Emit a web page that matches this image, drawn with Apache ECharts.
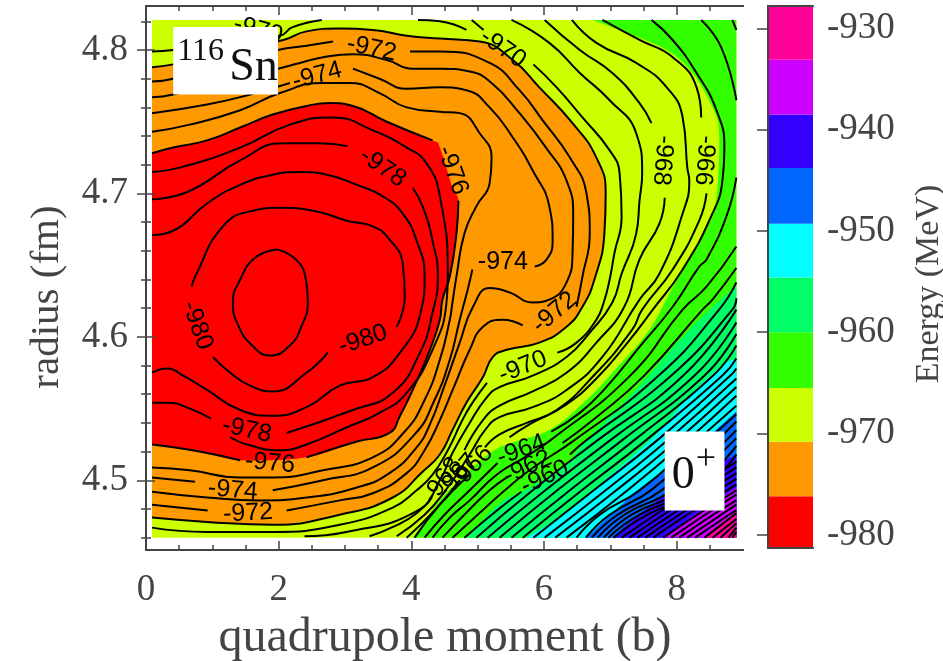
<!DOCTYPE html>
<html><head><meta charset="utf-8">
<style>html,body{margin:0;padding:0;background:#fff}#c{width:943px;height:661px}</style>
<script src="https://cdn.jsdelivr.net/npm/echarts@6/dist/echarts.min.js"></script>
</head><body><div id="c"></div>
<script>
const xTicks=[0,2,4,6,8];
const xMinorTicks=[0.5,1,1.5,2.5,3,3.5,4.5,5,5.5,6.5,7,7.5,8.5];
const yTicks=[4.5,4.6,4.7,4.8];
const yMinorTicks=[4.46,4.48,4.52,4.54,4.56,4.58,4.62,4.64,4.66,4.68,4.72,4.74,4.76,4.78,4.82];
const barTicks=[-980,-970,-960,-950,-940,-930];
const barEdges=[-981.34,-976.2,-970.8,-965.5,-960,-954.6,-949.3,-943.8,-938.5,-933.1,-927.8];
const barColors=['#ff0000','#ff9900','#ccff00','#33ff00','#00ff66','#00ffff','#0066ff','#3300ff','#cc00ff','#ff0099'];

const c981=[[[1.97,4.661],[2.26,4.654],[2.41,4.640],[2.44,4.624],[2.35,4.608],[2.17,4.594],[1.87,4.587],[1.60,4.594],[1.39,4.608],[1.31,4.624],[1.42,4.640],[1.64,4.655],[1.97,4.661]]];
const c980=[[[0.69,4.635],[0.74,4.642],[1.16,4.677],[1.61,4.688],[2.02,4.690],[2.52,4.688],[3.03,4.681],[3.42,4.677],[3.67,4.668],[3.87,4.651],[3.90,4.628],[3.78,4.607]],
[[2.74,4.589],[2.42,4.575],[1.91,4.562],[1.57,4.566],[1.27,4.575],[1.01,4.586]]];
const c979=[[[0.09,4.671],[0.41,4.674],[0.92,4.693],[1.42,4.706],[1.91,4.713],[2.32,4.715],[2.73,4.713],[3.18,4.706],[3.57,4.698],[3.87,4.686],[4.08,4.667],[4.20,4.642],[4.14,4.617],[3.83,4.589],[3.42,4.572],[2.92,4.566],[2.42,4.551],[1.91,4.545],[1.42,4.549],[0.92,4.563],[0.56,4.573],[0.32,4.578],[0.09,4.575]]];
const c978=[[[0.09,4.696],[0.62,4.701],[1.42,4.723],[2.06,4.735],[2.62,4.735],[3.04,4.733]],
[[4.02,4.704],[4.17,4.691],[4.32,4.667],[4.40,4.642],[4.32,4.617],[4.13,4.589],[3.72,4.561],[3.12,4.549],[2.12,4.533]],
[[0.98,4.543],[0.66,4.550],[0.32,4.554],[0.09,4.554]]];
const c977=[[[0.09,4.715],[0.51,4.718],[1.42,4.732],[2.17,4.748],[2.82,4.753],[3.42,4.744],[3.93,4.732],[4.23,4.721],[4.43,4.698],[4.55,4.642],[4.53,4.624],[4.32,4.591],[3.93,4.561],[3.52,4.547],[3.03,4.537],[2.42,4.525],[2.02,4.521],[1.52,4.525],[1.27,4.530]]];
const c976=[[[0.09,4.728],[0.41,4.732],[0.92,4.737],[1.42,4.746],[1.91,4.755],[2.42,4.761],[2.77,4.763],[3.12,4.761],[3.63,4.750],[4.32,4.737]],
[[4.71,4.695],[4.68,4.672],[4.58,4.642],[4.47,4.626],[4.43,4.612],[4.28,4.591],[4.05,4.566],[3.83,4.545],[3.67,4.533],[3.18,4.527],[2.42,4.516]],
[[1.42,4.514],[0.92,4.519],[0.41,4.523],[0.09,4.525]]];
const c975=[[[0.09,4.743],[0.66,4.748],[1.42,4.758],[2.02,4.770],[2.67,4.777],[3.07,4.777],[3.52,4.770],[3.93,4.760],[4.43,4.757],[4.73,4.756],[5.03,4.742],[5.21,4.725],[5.18,4.707],[4.98,4.691],[4.80,4.672],[4.68,4.642],[4.62,4.624],[4.58,4.612],[4.43,4.584],[4.20,4.556],[3.90,4.534],[3.42,4.516],[2.67,4.507],[1.91,4.502],[1.42,4.502],[0.66,4.507],[0.09,4.509]]];
const c974=[[[0.09,4.756],[0.92,4.762],[1.57,4.769],[2.17,4.777]],
[[3.12,4.787],[3.52,4.780],[3.93,4.773],[4.43,4.774],[4.83,4.772],[5.18,4.760],[5.53,4.739],[5.83,4.716],[6.08,4.691],[6.13,4.667],[6.04,4.654],[5.86,4.649]],
[[4.92,4.647],[4.85,4.633],[4.73,4.612],[4.58,4.584],[4.35,4.556],[4.05,4.532],[3.42,4.509],[2.67,4.500],[1.91,4.493]],
[[0.74,4.499],[0.09,4.502]]];
const c973=[[[0.09,4.767],[0.41,4.769],[1.99,4.787],[2.32,4.791],[2.67,4.795],[3.12,4.797],[3.63,4.793],[4.02,4.787],[4.43,4.787],[4.88,4.785],[5.21,4.777],[5.63,4.756],[6.03,4.732],[6.34,4.709],[6.44,4.684],[6.43,4.658],[6.34,4.638],[6.08,4.626],[5.83,4.624],[5.48,4.631],[5.18,4.634],[4.93,4.621],[4.73,4.596],[4.50,4.566],[4.28,4.539],[4.08,4.523],[3.67,4.505],[3.18,4.495],[2.42,4.488],[1.72,4.486],[0.92,4.488],[0.09,4.492]]];
const c972=[[[0.09,4.778],[0.41,4.780],[1.99,4.800],[2.42,4.803],[2.82,4.806]],
[[3.98,4.799],[4.43,4.799],[5.18,4.791],[5.63,4.772],[5.98,4.751],[6.39,4.725],[6.64,4.700],[6.69,4.672],[6.58,4.642],[6.49,4.621]],
[[5.68,4.608],[5.38,4.612],[5.08,4.607],[4.88,4.591],[4.65,4.566],[4.43,4.542],[4.20,4.521],[3.93,4.505],[3.42,4.491],[2.92,4.486],[2.12,4.479]],
[[0.93,4.479],[0.09,4.483]]];
const c971=[[[0.09,4.788],[0.41,4.790],[2.07,4.807],[2.42,4.813],[2.92,4.815],[3.42,4.814],[3.93,4.810],[4.43,4.808],[5.03,4.806],[5.53,4.793],[5.93,4.774],[6.43,4.749],[6.79,4.725],[6.93,4.700],[6.91,4.672],[6.76,4.640],[6.58,4.621],[6.34,4.607],[5.93,4.596],[5.44,4.591],[5.23,4.586],[5.08,4.572],[4.83,4.554],[4.62,4.535],[4.43,4.518],[4.17,4.506],[3.72,4.488],[2.92,4.476],[1.91,4.469],[0.92,4.471],[0.09,4.474]]];
const c970=[[[0.09,4.799],[0.41,4.800],[2.02,4.810],[2.21,4.816],[2.65,4.821]],
[[4.10,4.821],[4.43,4.820],[4.83,4.814]],
[[4.91,4.821],[5.09,4.814]],
[[5.84,4.790],[6.19,4.774],[6.58,4.753],[6.99,4.730],[7.14,4.714],[7.17,4.684],[7.06,4.658],[6.99,4.640],[6.90,4.624],[6.79,4.612],[6.49,4.596],[6.20,4.589]],
[[5.14,4.568],[4.92,4.554],[4.77,4.542],[4.55,4.521],[4.32,4.504],[4.08,4.493],[3.72,4.481],[2.92,4.469],[1.91,4.464],[0.92,4.464],[0.09,4.467]]];
const c969=[[[5.51,4.821],[6.08,4.805],[6.54,4.784],[6.99,4.765],[7.39,4.742],[7.48,4.714],[7.44,4.695],[7.39,4.672],[7.17,4.644],[7.03,4.624],[6.69,4.603],[6.34,4.586],[5.83,4.573],[5.33,4.565],[5.14,4.558],[4.88,4.540],[4.62,4.519],[4.43,4.500],[4.10,4.479],[3.02,4.464],[2.39,4.461]]];
const c968=[[[6.01,4.821],[6.54,4.800],[7.03,4.784],[7.44,4.763],[7.62,4.749]],
[[7.82,4.697],[7.74,4.679],[7.44,4.654],[7.21,4.621],[6.79,4.596],[6.34,4.575],[5.83,4.562],[5.33,4.552],[5.08,4.542],[4.80,4.521]],
[[4.31,4.488],[4.08,4.477],[3.75,4.468],[3.37,4.461]]];
const c967=[[[6.42,4.821],[6.79,4.805],[7.39,4.791],[7.85,4.774],[8.09,4.753],[8.16,4.718],[8.19,4.709],[8.09,4.686],[7.74,4.644],[7.44,4.626],[6.88,4.586],[6.34,4.563],[5.83,4.551],[5.33,4.544],[5.11,4.535],[4.88,4.518],[4.50,4.492],[4.20,4.476],[3.78,4.461]]];
const c966=[[[6.88,4.821],[7.44,4.807],[7.94,4.795],[8.30,4.774],[8.37,4.753]],
[[8.45,4.700],[8.34,4.681],[7.94,4.647],[7.48,4.619],[7.33,4.605],[6.73,4.572],[6.19,4.549],[5.74,4.540],[5.33,4.532],[5.11,4.523]],
[[4.73,4.500],[4.35,4.479],[3.93,4.460]]];
const c965=[[[7.62,4.821],[7.94,4.807],[8.30,4.784],[8.60,4.758],[8.72,4.732],[8.69,4.709],[8.54,4.686],[8.09,4.647],[7.64,4.619],[7.26,4.596],[6.79,4.571],[6.31,4.552],[5.78,4.539],[5.48,4.530]],
[[4.88,4.504],[4.43,4.483],[4.05,4.460]]];
const c964=[[[8.37,4.821],[8.67,4.802],[8.90,4.765]],[[8.84,4.821],[8.90,4.814]],
[[8.90,4.711],[8.75,4.684],[8.45,4.654],[8.34,4.649],[7.94,4.621],[7.44,4.593],[6.94,4.565],[6.54,4.547],[6.11,4.534]],
[[5.30,4.512],[4.88,4.493],[4.50,4.476],[4.20,4.460]]];
const c963=[[[8.90,4.663],[8.45,4.635],[8.09,4.619],[7.30,4.573],[6.10,4.528],[5.71,4.516],[5.29,4.504],[4.88,4.486],[4.58,4.474],[4.32,4.460]]];
const c962=[[[8.90,4.648],[8.54,4.626],[8.39,4.619],[7.51,4.573],[6.79,4.544],[6.28,4.526]],[[5.44,4.502],[5.18,4.493],[4.80,4.476],[4.47,4.460]]];
const c961=[[[8.90,4.638],[8.64,4.619],[7.73,4.573],[6.46,4.528],[5.78,4.507],[5.41,4.493],[5.00,4.476],[4.62,4.460]]];
const c960=[[[8.90,4.627],[8.84,4.619],[7.92,4.573],[6.64,4.528],[6.39,4.518]],[[5.66,4.492],[5.29,4.479],[4.80,4.460]]];
const c959=[[[8.90,4.619],[8.10,4.573],[6.81,4.528],[5.83,4.493],[4.98,4.460]]];
const c958=[[[8.90,4.610],[8.27,4.573],[7.00,4.528],[6.02,4.493],[5.15,4.460]]];
const c957=[[[8.90,4.602],[8.42,4.573],[7.18,4.528],[6.20,4.493],[5.33,4.460]]];
const c956=[[[8.90,4.594],[8.55,4.573],[7.36,4.528],[6.39,4.493],[5.51,4.460]]];
const c955=[[[8.90,4.585],[8.69,4.573],[7.54,4.528],[6.57,4.493],[5.68,4.460]]];
const c954=[[[8.90,4.578],[8.81,4.573],[7.71,4.528],[6.75,4.493],[5.84,4.460]]];
const c953=[[[8.90,4.571],[7.86,4.528],[6.93,4.493],[6.01,4.460]]];
const c952=[[[8.90,4.565],[8.01,4.528],[7.09,4.493],[6.17,4.460]]];
const c951=[[[8.90,4.559],[8.16,4.528],[7.26,4.493],[6.34,4.460]]];
const c950=[[[8.90,4.552],[8.31,4.528],[7.44,4.493],[6.84,4.476],[6.49,4.460]]];
const c949=[[[8.90,4.546],[8.46,4.528],[7.61,4.493],[6.99,4.476],[6.63,4.460]]];
const c948=[[[8.90,4.541],[8.61,4.528],[7.77,4.493],[7.11,4.476],[6.72,4.460]]];
const c947=[[[8.90,4.535],[8.75,4.528],[7.92,4.493],[7.21,4.476],[6.81,4.460]]];
const c946=[[[8.90,4.529],[8.87,4.528],[8.07,4.493],[7.32,4.476],[6.90,4.460]]];
const c945=[[[8.90,4.524],[8.22,4.493],[7.44,4.476],[6.97,4.460]]];
const c944=[[[8.90,4.518],[8.37,4.493],[7.56,4.476],[7.05,4.460]]];
const c943=[[[8.90,4.513],[7.68,4.476],[7.17,4.460]]];
const c942=[[[8.90,4.509],[7.80,4.476],[7.29,4.460]]];
const c941=[[[8.90,4.505],[7.92,4.476],[7.41,4.460]]];
const c940=[[[8.90,4.501],[8.04,4.476],[7.53,4.460]]];
const c939=[[[8.90,4.497],[8.16,4.476],[7.65,4.460]]];
const c938=[[[8.90,4.493],[8.31,4.476],[7.80,4.460]]];
const c937=[[[8.90,4.490],[8.43,4.476],[7.92,4.460]]];
const c936=[[[8.90,4.486],[8.55,4.476],[8.04,4.460]]];
const c935=[[[8.90,4.483],[8.67,4.476],[8.16,4.460]]];
const c934=[[[8.90,4.479],[8.79,4.476],[8.28,4.460]]];
const c933=[[[8.90,4.477],[8.42,4.460]]];
const c932=[[[8.90,4.473],[8.54,4.460]]];
const c931=[[[8.90,4.470],[8.66,4.460]]];
const c930=[[[8.90,4.467],[8.78,4.460]]];
const c929=[[[8.90,4.464],[8.84,4.460]]];

const allContours=[c981,c980,c979,c978,c977,c976,c975,c974,c973,c972,c971,c970,c969,c968,c967,c966,c965,c964,c963,c962,c961,c960,c959,c958,c957,c956,c955,c954,c953,c952,c951,c950,c949,c948,c947,c946,c945,c944,c943,c942,c941,c940,c939,c938,c937,c936,c935,c934,c933,c932,c931,c930,c929];

const dataExtent=[0.09,8.90,4.460,4.821];
const edge9762=[].concat(c976[0],[[4.43,4.732],[4.62,4.704]],c976[1],c976[2]);
const edge9708=c971[0];
const edge9655=[[6.73,4.821],[7.24,4.812],[7.85,4.800],[8.24,4.784],[8.54,4.760],[8.64,4.742],[8.60,4.697],[8.45,4.675],[8.00,4.640],[7.59,4.605],[7.03,4.575],[6.64,4.556],[6.08,4.535],[5.33,4.523],[4.88,4.507],[4.43,4.486],[4.02,4.460]];
const edge960=[[8.90,4.636],[8.19,4.605],[7.44,4.566],[6.64,4.528],[6.39,4.514],[6.04,4.502],[5.66,4.492],[5.33,4.484],[4.83,4.460]];
const edge9546=[[8.90,4.585],[8.69,4.580],[8.19,4.559],[7.61,4.528],[6.73,4.493],[6.39,4.479],[5.74,4.460]];
const edge9493=[[8.90,4.548],[8.34,4.525],[7.74,4.504],[7.41,4.493],[6.63,4.460]];
const edge9438=[[8.90,4.518],[8.34,4.504],[7.77,4.488],[7.02,4.460]];
const edge9385=[[8.90,4.495],[8.34,4.478],[7.79,4.460]];
const edge9331=[[8.90,4.478],[8.64,4.469],[8.40,4.460]];

const contourLabels=[[3.40,4.801,'-972',-12],[2.58,4.782,'-974',15],[1.69,4.814,'-970',-15],[3.57,4.718,'-978',-35],[4.62,4.716,'-976',-70],[5.38,4.801,'-970',-35],[7.79,4.723,'-968',-95],[8.42,4.723,'-966',-95],[5.38,4.652,'-974',0],[5.68,4.579,'-970',22],[6.16,4.617,'-972',40],[0.77,4.608,'-980',-70],[3.27,4.598,'-980',18],[1.52,4.535,'-978',-12],[1.87,4.512,'-976',-5],[1.31,4.493,'-974',-5],[1.54,4.477,'-972',3],[4.47,4.500,'-968',55],[4.70,4.503,'-967',50],[4.91,4.509,'-966',47],[5.66,4.521,'-964',20],[5.75,4.509,'-962',25],[6.01,4.502,'-960',25]];
const nucleusBox=[0.41,4.816,1.99,4.769];
const spinBox=[7.82,4.534,8.72,4.479];

const SERIF='"Liberation Serif",serif', SANS='"Liberation Sans",sans-serif', AX='#444';
function spline(pts){
  const out=[];
  for(let i=0;i<pts.length-1;i++){
    const p0=pts[Math.max(i-1,0)],p1=pts[i],p2=pts[i+1],p3=pts[Math.min(i+2,pts.length-1)];
    for(let k=0;k<6;k++){
      const t=k/6,t2=t*t,t3=t2*t;
      out.push([0,1].map(d=>0.5*(2*p1[d]+(p2[d]-p0[d])*t+(2*p0[d]-5*p1[d]+4*p2[d]-p3[d])*t2+(3*p1[d]-p0[d]-3*p2[d]+p3[d])*t3)));
    }
  }
  out.push(pts[pts.length-1]);
  return out;
}
const [xa,xb,ya,yb]=dataExtent;
function renderFills(p,api){
  const poly=(edge,extra,fill)=>({type:'polygon',shape:{points:spline(edge.map(q=>api.coord(q))).concat(extra.map(q=>api.coord(q)))},style:{fill}});
  return {type:'group',children:[
    poly([[xa,ya],[xa,yb]],[[xb,yb],[xb,ya]],barColors[2]),
    poly(edge9708,[],barColors[1]),
    poly(edge9762,[],barColors[0]),
    poly(edge9655,[[xb,ya],[xb,yb]],barColors[3]),
    poly(edge960,[[xb,ya]],barColors[4]),
    poly(edge9546,[[xb,ya]],barColors[5]),
    poly(edge9493,[[xb,ya]],barColors[6]),
    poly(edge9438,[[xb,ya]],barColors[7]),
    poly(edge9385,[[xb,ya]],barColors[8]),
    poly(edge9331,[[xb,ya]],barColors[9])
  ]};
}
function renderLabel(p,api){
  const d=contourLabels[p.dataIndex],c=api.coord([d[0],d[1]]);
  return {type:'text',x:c[0],y:c[1],rotation:d[3]*Math.PI/180,style:{text:d[2],fontFamily:SANS,fontSize:25,fill:'#000',align:'center',verticalAlign:'middle'}};
}
function renderBoxes(p,api){
  const box=b=>{const a=api.coord([b[0],b[1]]),e=api.coord([b[2],b[3]]);return {a,e,el:{type:'rect',shape:{x:a[0],y:a[1],width:e[0]-a[0],height:e[1]-a[1]},style:{fill:'#fff'}}};};
  const n=box(nucleusBox),s=box(spinBox);
  const t=(x,y,text,size)=>({type:'text',x,y,style:{text,fontFamily:SERIF,fontSize:size,fill:'#111',align:'left',verticalAlign:'middle'}});
  return {type:'group',children:[n.el,s.el,
    t(n.a[0]+4,n.a[1]+25,'116',32),t(n.a[0]+56,n.a[1]+41,'Sn',46),
    t(s.a[0]+7,s.a[1]+44,'0',46),t(s.a[0]+31,s.a[1]+28,'+',36)]};
}
function renderBar(p,api){
  const i=p.dataIndex,a=api.coord([0,barEdges[i]]),b=api.coord([1,barEdges[i+1]]);
  return {type:'rect',shape:{x:a[0],y:b[1],width:b[0]-a[0],height:a[1]-b[1]},style:{fill:barColors[i]}};
}
const line={show:true,lineStyle:{color:AX,width:2}};
function xAx(grid,pos,ticks,len,labels,min,max){return {type:'value',gridIndex:grid,position:pos,min,max,z:10,axisLine:line,splitLine:{show:false},
  axisTick:{show:!!ticks,inside:true,length:len,customValues:ticks||[],lineStyle:{color:AX,width:1.5}},
  axisLabel:labels?{show:true,customValues:labels,margin:22,fontFamily:SERIF,fontSize:37,color:AX,formatter:v=>String(v)}:{show:false}};}
function yAx(grid,pos,ticks,len,labels,min,max,fmt,margin){return {type:'value',gridIndex:grid,position:pos,min,max,z:10,axisLine:line,splitLine:{show:false},
  axisTick:{show:!!ticks,inside:true,length:len,customValues:ticks||[],lineStyle:{color:AX,width:1.5}},
  axisLabel:labels?{show:true,customValues:labels,margin,padding:[10,0,0,0],fontFamily:SERIF,fontSize:37,color:AX,formatter:fmt}:{show:false}};}
const X0=0,X1=9,Y0=4.4514,Y1=4.8307,B0=-981.3,B1=-927.8;
const series=[
 {type:'custom',xAxisIndex:0,yAxisIndex:0,renderItem:renderFills,data:[0],z:1,silent:true,clip:false}
];
allContours.forEach(level=>level.forEach(seg=>series.push({type:'line',xAxisIndex:0,yAxisIndex:0,data:seg,smooth:0.5,smoothConstraint:false,showSymbol:false,lineStyle:{color:'#000',width:2},z:2,silent:true})));
series.push({type:'custom',xAxisIndex:0,yAxisIndex:0,renderItem:renderLabel,data:contourLabels.map(d=>[d[0],d[1]]),z:3,silent:true});
series.push({type:'custom',xAxisIndex:0,yAxisIndex:0,renderItem:renderBoxes,data:[0],z:4,silent:true});
series.push({type:'custom',xAxisIndex:4,yAxisIndex:4,renderItem:renderBar,data:barColors.map((c,i)=>i),z:1,silent:true,clip:true});
const chart=echarts.init(document.getElementById('c'),null,{renderer:'canvas'});
chart.setOption({animation:false,backgroundColor:'#fff',
 grid:[{left:146,top:6,width:597,height:544},{left:768,top:6,width:45,height:542}],
 xAxis:[xAx(0,'bottom',xTicks,9,xTicks,X0,X1),xAx(0,'top',xTicks,9,null,X0,X1),xAx(0,'bottom',xMinorTicks,5,null,X0,X1),xAx(0,'top',xMinorTicks,5,null,X0,X1),
        xAx(1,'bottom',null,0,null,0,1),xAx(1,'top',null,0,null,0,1)],
 yAxis:[yAx(0,'left',yTicks,9,yTicks,Y0,Y1,v=>v.toFixed(1),18),yAx(0,'right',yTicks,9,null,Y0,Y1),yAx(0,'left',yMinorTicks,5,null,Y0,Y1),yAx(0,'right',yMinorTicks,5,null,Y0,Y1),
        yAx(1,'right',barTicks,11,barTicks,B0,B1,v=>String(v),14),yAx(1,'left',null,0,null,B0,B1)],
 graphic:[
  {type:'text',x:445,y:638,style:{text:'quadrupole moment (b)',fontFamily:SERIF,fontSize:48,fill:AX,align:'center',verticalAlign:'middle'}},
  {type:'text',x:47,y:297,rotation:Math.PI/2,style:{text:'radius (fm)',fontFamily:SERIF,fontSize:41,fill:AX,align:'center',verticalAlign:'middle'}},
  {type:'text',x:929,y:284,rotation:Math.PI/2,style:{text:'Energy (MeV)',fontFamily:SERIF,fontSize:34,fill:AX,align:'center',verticalAlign:'middle'}}
 ],
 series});
</script></body></html>
